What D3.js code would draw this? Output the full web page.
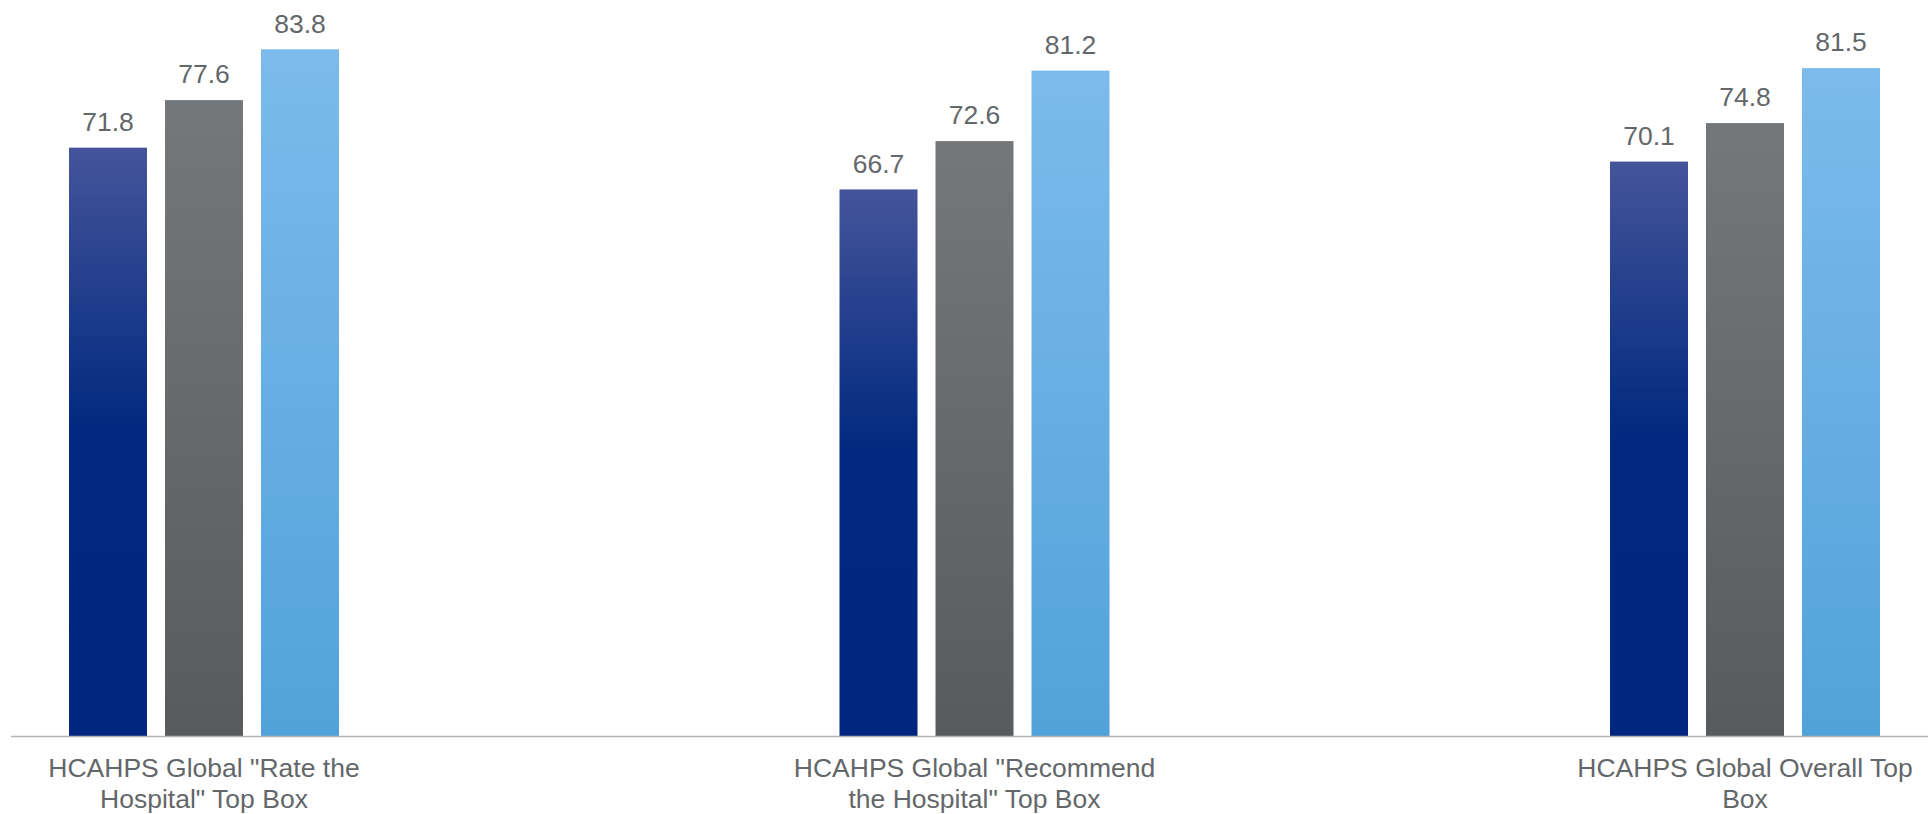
<!DOCTYPE html>
<html>
<head>
<meta charset="utf-8">
<script src="https://cdn.jsdelivr.net/npm/d3@7"></script>
<style>
  html, body { margin: 0; padding: 0; background: #fff; }
  svg { display: block; font-family: "Liberation Sans", Arial, sans-serif; }
</style>
</head>
<body>
<svg width="1928" height="814"></svg>
<script>
// Categorias e series
const categories = [
  'HCAHPS Global "Rate the Hospital" Top Box',
  'HCAHPS Global "Recommend the Hospital" Top Box',
  'HCAHPS Global Overall Top Box'
];
const seriesNames = ["s1", "s2", "s3"];
const s1 = [71.8, 66.7, 70.1];
const s2 = [77.6, 72.6, 74.8];
const s3 = [83.8, 81.2, 81.5];

const svg = d3.select("svg");
const width = +svg.attr("width");
const textColor = "#63676a";
const fontSize = 26.5;

const baseline = 736;

// escalas
const x0 = d3.scaleBand().domain(categories).range([-181.25, 2130.25]).padding(0);
const x1 = d3.scaleBand().domain(seriesNames).range([0, 270]).paddingInner(0.1875).paddingOuter(0);
const y = d3.scaleLinear().domain([0, 90]).range([baseline, -1.5]);

// gradientes de cada serie
const gradients = {
  s1: [["0%", "#45549a"], ["48%", "#00297f"], ["100%", "#00267f"]],
  s2: [["0%", "#75787b"], ["100%", "#575b5e"]],
  s3: [["0%", "#7cbbeb"], ["100%", "#52a2da"]]
};
const defs = svg.append("defs");
Object.entries(gradients).forEach(([key, stops]) => {
  const grad = defs.append("linearGradient")
    .attr("id", "grad-" + key)
    .attr("x1", 0).attr("y1", 0).attr("x2", 0).attr("y2", 1);
  stops.forEach(s => grad.append("stop").attr("offset", s[0]).attr("stop-color", s[1]));
});

const data = categories.map((c, i) => ({
  cat: c,
  values: [
    { key: "s1", value: s1[i] },
    { key: "s2", value: s2[i] },
    { key: "s3", value: s3[i] }
  ]
}));

const groups = svg.selectAll("g.group")
  .data(data)
  .join("g")
  .attr("class", "group")
  .attr("transform", d => `translate(${x0(d.cat) + (x0.bandwidth() - 270) / 2},0)`);

groups.selectAll("rect")
  .data(d => d.values)
  .join("rect")
  .attr("x", d => x1(d.key))
  .attr("y", d => y(d.value))
  .attr("width", x1.bandwidth())
  .attr("height", d => baseline - y(d.value))
  .attr("fill", d => `url(#grad-${d.key})`);

groups.selectAll("text.value")
  .data(d => d.values)
  .join("text")
  .attr("class", "value")
  .attr("x", d => x1(d.key) + x1.bandwidth() / 2)
  .attr("y", d => y(d.value) - 16.7)
  .attr("text-anchor", "middle")
  .attr("fill", textColor)
  .style("font-size", fontSize + "px")
  .text(d => d.value.toFixed(1));

// linha do eixo
svg.append("line")
  .attr("x1", 11).attr("x2", width)
  .attr("y1", baseline + 0.5).attr("y2", baseline + 0.5)
  .attr("stroke", "#b4b4b4")
  .attr("stroke-width", 1.5);

// rotulos das categorias (quebra de linha)
const wrapWidth = 380;
const labels = svg.selectAll("text.cat")
  .data(categories)
  .join("text")
  .attr("class", "cat")
  .attr("text-anchor", "middle")
  .attr("fill", textColor)
  .style("font-size", fontSize + "px")
  .attr("x", d => x0(d) + x0.bandwidth() / 2)
  .attr("y", 777);

labels.each(function(d) {
  const text = d3.select(this);
  const words = d.split(" ");
  const cx = text.attr("x");
  let line = [];
  let lineNo = 0;
  let tspan = text.append("tspan").attr("x", cx).attr("dy", 0);
  words.forEach(w => {
    line.push(w);
    tspan.text(line.join(" "));
    if (tspan.node().getComputedTextLength() > wrapWidth && line.length > 1) {
      line.pop();
      tspan.text(line.join(" "));
      line = [w];
      lineNo++;
      tspan = text.append("tspan").attr("x", cx).attr("dy", 31).text(w);
    }
  });
});
</script>
</body>
</html>
